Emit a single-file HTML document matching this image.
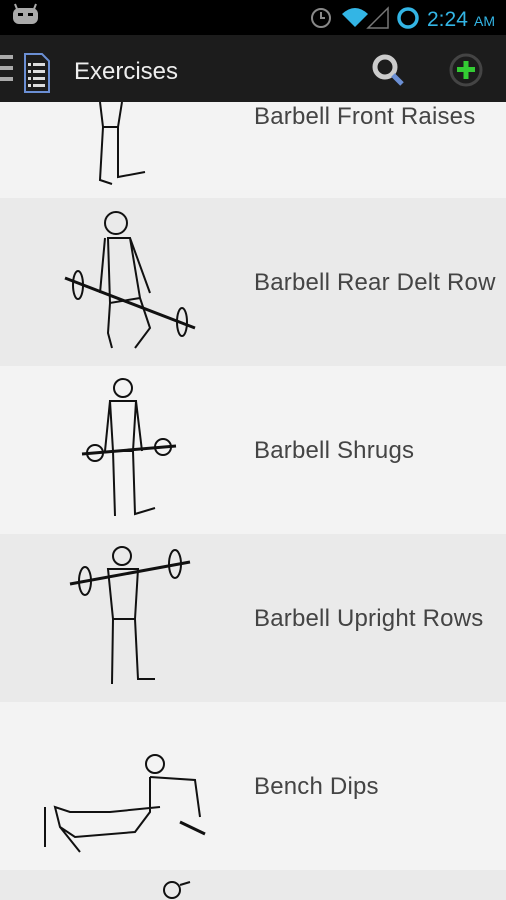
<!DOCTYPE html>
<html><head><meta charset="utf-8"><style>
*{margin:0;padding:0;box-sizing:border-box}
body{width:506px;height:900px;overflow:hidden;background:#f2f2f2;font-family:"Liberation Sans",sans-serif;position:relative}
#status{position:absolute;left:0;top:0;width:506px;height:35px;background:#000}
#bar{position:absolute;left:0;top:35px;width:506px;height:67px;background:#1c1c1c}
.row{position:absolute;left:0;width:506px}
.row .t{position:absolute;left:254px;font-size:24px;color:#444;font-weight:300;letter-spacing:0.2px}
.row svg{position:absolute;left:0;top:0}
</style></head><body>
<div id="status">
<svg width="506" height="35">
<rect x="13" y="8" width="25" height="16" rx="6" fill="#aaa"/><line x1="15" y1="4" x2="17" y2="9" stroke="#aaa" stroke-width="2"/><line x1="36" y1="4" x2="34" y2="9" stroke="#aaa" stroke-width="2"/>
<rect x="18" y="13" width="5" height="3" fill="#000"/><rect x="28" y="13" width="5" height="3" fill="#000"/>
<circle cx="321" cy="18" r="9" fill="none" stroke="#888" stroke-width="2"/><path d="M321 12v6h4" stroke="#888" stroke-width="2" fill="none"/>
<path d="M342 14 Q355 2 368 14 L355 27 Z" fill="#33b5e5"/>
<path d="M368 28 L388 28 L388 8 Z" fill="none" stroke="#777" stroke-width="1.5"/>
<circle cx="408" cy="18" r="9" fill="none" stroke="#33b5e5" stroke-width="3.5"/>
<text x="427" y="26" fill="#33b5e5" font-size="21" font-family="Liberation Sans">2:24</text><text x="474" y="26" fill="#33b5e5" font-size="14" font-family="Liberation Sans">AM</text>
</svg></div>
<div id="bar">
<svg width="506" height="67">
<g><rect x="0" y="20" width="13" height="4" fill="#aaa"/><rect x="0" y="31" width="13" height="4" fill="#aaa"/><rect x="0" y="42" width="13" height="4" fill="#aaa"/>
<path d="M25 19h17l7 7v31h-24z" fill="none" stroke="#6b8fd4" stroke-width="2"/>
<rect x="28" y="28" width="3" height="3" fill="#ddd"/><rect x="33" y="28" width="12" height="3" fill="#ddd"/>
<rect x="28" y="35" width="3" height="3" fill="#ddd"/><rect x="33" y="35" width="12" height="3" fill="#ddd"/>
<rect x="28" y="42" width="3" height="3" fill="#ddd"/><rect x="33" y="42" width="12" height="3" fill="#ddd"/>
<rect x="28" y="49" width="3" height="3" fill="#ddd"/><rect x="33" y="49" width="12" height="3" fill="#ddd"/></g>
<text x="74" y="44" fill="#eee" font-size="24" font-family="Liberation Sans">Exercises</text>
<g><circle cx="385" cy="32" r="10" fill="none" stroke="#ccc" stroke-width="5"/><line x1="393" y1="40" x2="402" y2="49" stroke="#6b8fd4" stroke-width="5"/></g>
<g><circle cx="466" cy="35" r="15" fill="none" stroke="#444" stroke-width="3"/><rect x="457" y="32" width="18" height="5" fill="#3c3"/><rect x="463.5" y="26" width="5" height="18" fill="#3c3"/></g>
</svg></div>

<div class="row" style="top:102px;height:96px;background:#f3f3f3">
<svg width="250" height="96"><g fill="none" stroke="#111" stroke-width="2"><path d="M100 0 L103 25 L118 25 L122 0"/><path d="M103 25 L100 78 L112 82 M118 25 L118 75 L145 70"/></g></svg>
<div class="t" style="top:1px">Barbell Front Raises</div></div>

<div class="row" style="top:198px;height:168px;background:#eaeaea">
<svg width="250" height="168"><g fill="none" stroke="#111" stroke-width="2"><circle cx="116" cy="25" r="11"/><path d="M105 40 L100 95 M130 40 L150 95 M108 40 L130 40 L140 100 L110 105 Z M110 105 L108 135 L112 150 M140 100 L150 130 L135 150"/><line x1="65" y1="80" x2="195" y2="130" stroke-width="3"/><ellipse cx="78" cy="87" rx="5" ry="14"/><ellipse cx="182" cy="124" rx="5" ry="14"/></g></svg>
<div class="t" style="top:71px">Barbell Rear Delt Row</div></div>

<div class="row" style="top:366px;height:168px;background:#f3f3f3">
<svg width="250" height="168"><g fill="none" stroke="#111" stroke-width="2"><circle cx="123" cy="22" r="9"/><path d="M110 35 L136 35 L133 85 L113 85 Z M110 35 L105 85 M136 35 L142 85 M113 85 L115 150 M133 85 L135 148 L155 142"/><line x1="82" y1="88" x2="176" y2="80" stroke-width="3"/><circle cx="95" cy="87" r="8"/><circle cx="163" cy="81" r="8"/></g></svg>
<div class="t" style="top:71px">Barbell Shrugs</div></div>

<div class="row" style="top:534px;height:168px;background:#eaeaea">
<svg width="250" height="168"><g fill="none" stroke="#111" stroke-width="2"><circle cx="122" cy="22" r="9"/><path d="M108 35 L138 35 L135 85 L113 85 Z M113 85 L112 150 M135 85 L138 145 L155 145"/><line x1="70" y1="50" x2="190" y2="28" stroke-width="3"/><ellipse cx="85" cy="47" rx="6" ry="14"/><ellipse cx="175" cy="30" rx="6" ry="14"/></g></svg>
<div class="t" style="top:71px">Barbell Upright Rows</div></div>

<div class="row" style="top:702px;height:168px;background:#f3f3f3">
<svg width="250" height="168"><g fill="none" stroke="#111" stroke-width="2"><circle cx="155" cy="62" r="9"/><path d="M150 75 L195 78 L200 115 M150 75 L150 110 L135 130 L75 135 L60 125 L55 105 L70 110 L110 110 L160 105 M45 105 L45 145 M60 125 L80 150"/><line x1="180" y1="120" x2="205" y2="132" stroke-width="3"/></g></svg>
<div class="t" style="top:71px">Bench Dips</div></div>

<div class="row" style="top:870px;height:30px;background:#eaeaea">
<svg width="250" height="30"><g fill="none" stroke="#111" stroke-width="2"><ellipse cx="172" cy="20" rx="8" ry="8"/><line x1="180" y1="15" x2="190" y2="12"/></g></svg></div>
</body></html>
